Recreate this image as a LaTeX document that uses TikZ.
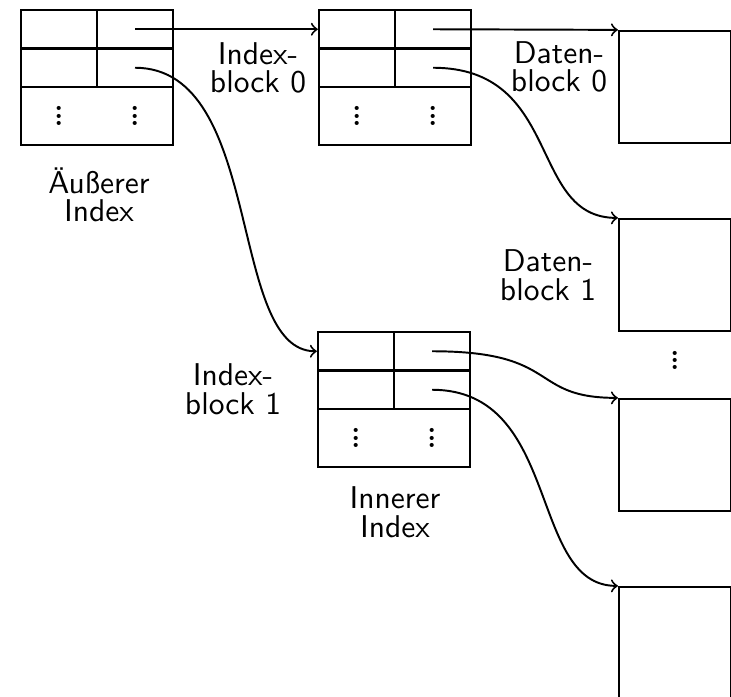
\documentclass[tikz,border=0pt]{standalone}
\usepackage{fontspec}
\newcommand\vdt{\vbox{\baselineskip=2.45pt\lineskiplimit=-20pt\lineskip=0pt\hbox{.}\hbox{.}\hbox{.}}}
\newcommand\idxtab[3]{%
  \node[cellbox] (#1-11) at (#2+38,#3+19.25) {};
  \node[cellbox] (#1-12) at (#2+114,#3+19.25) {};
  \node[cellbox] (#1-21) at (#2+38,#3+57.75) {};
  \node[cellbox] (#1-22) at (#2+114,#3+57.75) {};
  \node[dotrow] (#1-3) at (#2+76,#3+106) {};
  \node[vd] (#1-3l) at (#2+38,#3+106) {\vdt};
  \node[vd] (#1-3r) at (#2+114,#3+106) {\vdt};
}
\begin{document}
\begin{tikzpicture}[x=0.33333pt,y=-0.33333pt,
  cellbox/.style={draw,line width=0.75pt,inner sep=0pt,minimum width=25.333pt,minimum height=12.833pt},
  dotrow/.style={draw,line width=0.75pt,inner sep=0pt,minimum width=50.667pt,minimum height=19.333pt},
  dblock/.style={draw,line width=0.75pt,inner sep=0pt,minimum width=37.5pt,minimum height=37.333pt},
  vd/.style={font=\rmfamily\fontsize{14pt}{14pt}\selectfont,inner sep=0pt},
  lab/.style={font=\sffamily\fontsize{10.5pt}{9.5pt}\selectfont,align=center,inner sep=0pt},
  arr/.style={->,line width=0.65pt}]
\useasboundingbox (0,0) rectangle (731,696);
\clip (0,0) rectangle (731,696);
% index tables
\idxtab{o}{21}{10}
\idxtab{b}{319}{10}
\idxtab{i}{318}{332}
% data blocks
\node[dblock] (d0) at (675.25,87) {};
\node[dblock] (d1) at (675.25,275) {};
\node[dblock] (d2) at (675.25,455) {};
\node[dblock] (d3) at (675.25,643) {};
\node[vd] (ddots) at (675,360.5) {\vdt};
% labels
\node[lab] (lo) at (99,195) {Äußerer\\Index};
\node[lab] (lb0) at (258,68) {Index-\\block 0};
\node[lab] (lb1) at (233,389) {Index-\\block 1};
\node[lab] (li) at (395,512) {Innerer\\Index};
\node[lab] (ld0) at (559,67) {Daten-\\block 0};
\node[lab] (ld1) at (548,275) {Daten-\\block 1};
% connectors
\draw[arr] (o-12.center) -- (b-11.west);
\draw[arr] (o-22.center) .. controls +(130,0) and +(-90,0) .. (i-11.west);
\draw[arr] (b-12.center) -- (d0.north west);
\draw[arr] (b-22.center) .. controls +(130,0) and +(-90,0) .. (d1.north west);
\draw[arr] (i-12.center) .. controls +(130,0) and +(-90,0) .. (d2.north west);
\draw[arr] (i-22.center) .. controls +(130,0) and +(-90,0) .. (d3.north west);
\end{tikzpicture}
\end{document}
